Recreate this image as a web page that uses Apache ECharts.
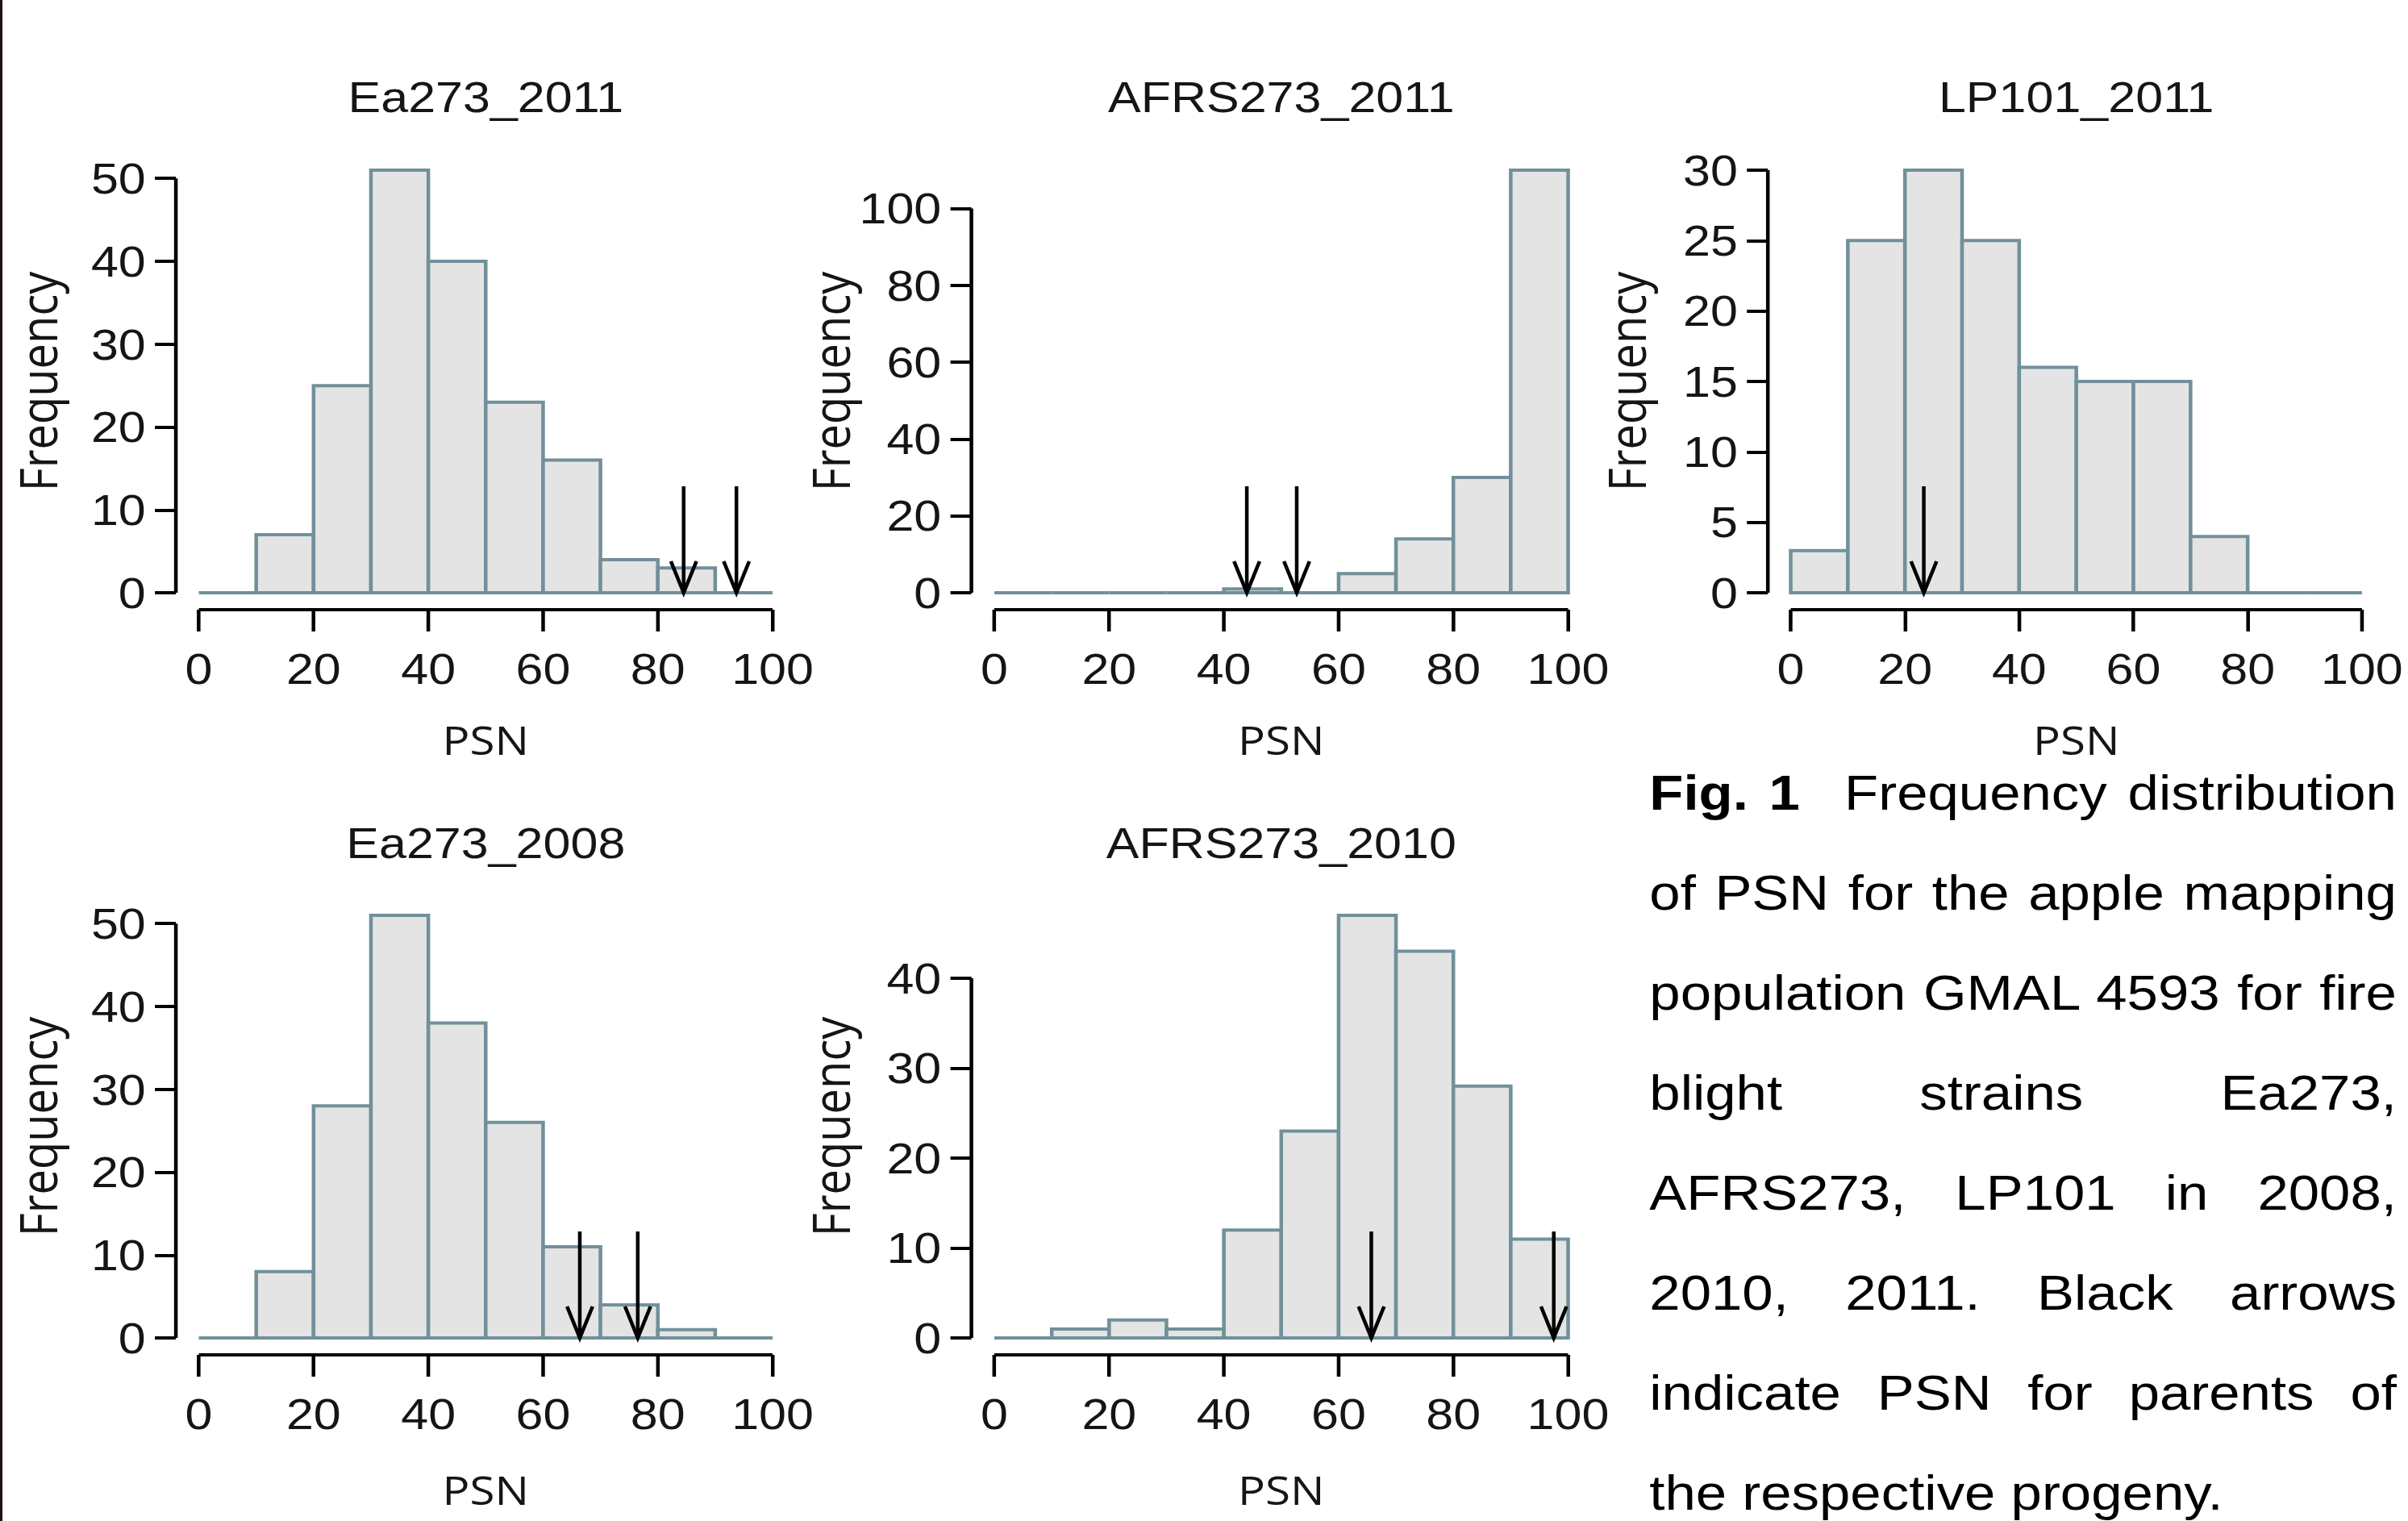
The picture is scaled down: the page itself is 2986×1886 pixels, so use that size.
<!DOCTYPE html>
<html lang="en">
<head>
<meta charset="utf-8">
<title>Fig. 1 Frequency distribution of PSN</title>
<script src="https://cdn.jsdelivr.net/npm/echarts@6/dist/echarts.min.js"></script>
<style>
  html, body { margin: 0; padding: 0; background: #fff; }
  body { width: 2986px; height: 1886px; overflow: hidden; position: relative; }
  /* the source figure is stretched sideways (~1.13x), so lay out narrow and stretch it */
  #stage { position: absolute; left: 0; top: 0; width: 2643px; height: 1886px; transform: scaleX(1.13); transform-origin: 0 0; }
  #chart { position: absolute; left: 0; top: 0; width: 2643px; height: 1886px; }
  #caption { position: absolute; left: 1810px; top: 954px; width: 820px; font-family: 'Liberation Sans', Arial, sans-serif; font-size: 61px; color: #000; }
  #caption div { height: 58px; line-height: 58px; margin-bottom: 66px; text-align: justify; text-align-last: justify; }
  #caption div.last { text-align: left; text-align-last: left; }
  #caption b { margin-right: 26px; }
  #edge { position: absolute; left: 0; top: 0; width: 3px; height: 1886px; background: #1e1212; }
</style>
</head>
<body>
<div id="stage">
  <div id="chart"></div>
  <div id="caption"></div>
</div>
<div id="edge"></div>
<script>
// histogram bins (PSN, %) and tick values
const binEdges = [0, 10, 20, 30, 40, 50, 60, 70, 80, 90, 100];
const xTicks = [0, 20, 40, 60, 80, 100];

// counts per bin
const countsEa2011 = [0, 7, 25, 51, 40, 23, 16, 4, 3, 0];
const countsAfrs2011 = [0, 0, 0, 0, 1, 0, 5, 14, 30, 110];
const countsLp2011 = [3, 25, 30, 25, 16, 15, 15, 4, 0, 0];
const countsEa2008 = [0, 8, 28, 51, 38, 26, 11, 4, 1, 0];
const countsAfrs2010 = [0, 1, 2, 1, 12, 23, 47, 43, 28, 11];

const yTicksEa2011 = [0, 10, 20, 30, 40, 50];
const yTicksAfrs2011 = [0, 20, 40, 60, 80, 100];
const yTicksLp2011 = [0, 5, 10, 15, 20, 25, 30];
const yTicksEa2008 = [0, 10, 20, 30, 40, 50];
const yTicksAfrs2010 = [0, 10, 20, 30, 40];

// PSN of the parents (black arrows)
const arrowsEa2011 = [84.5, 93.7];
const arrowsAfrs2011 = [44.0, 52.7];
const arrowsLp2011 = [23.3];
const arrowsEa2008 = [66.4, 76.5];
const arrowsAfrs2010 = [65.7, 97.5];

const panelTitles = ['Ea273_2011', 'AFRS273_2011', 'LP101_2011', 'Ea273_2008', 'AFRS273_2010'];

const captionLines = [
  '<b>Fig.&nbsp;1</b> Frequency distribution',
  'of PSN for the apple mapping',
  'population GMAL 4593 for fire',
  'blight strains Ea273,',
  'AFRS273, LP101 in 2008,',
  '2010, 2011. Black arrows',
  'indicate PSN for parents of',
  'the respective progeny.'
];

// styles / layout
const BAR_FILL = '#e4e4e4';
const BAR_EDGE = '#71909a';
const INK = '#151515';
const ARROW_LEN = 132;
const HEAD_H = 39;
const HEAD_W = 14;

const gridBoxes = [
  { left: 193, top: 190, width: 680, height: 566 },
  { left: 1066, top: 190, width: 680, height: 566 },
  { left: 1940, top: 190, width: 677, height: 566 },
  { left: 193, top: 1114, width: 680, height: 566 },
  { left: 1066, top: 1114, width: 680, height: 566 }
];

const panels = [
  { counts: countsEa2011, yTicks: yTicksEa2011, arrows: arrowsEa2011 },
  { counts: countsAfrs2011, yTicks: yTicksAfrs2011, arrows: arrowsAfrs2011 },
  { counts: countsLp2011, yTicks: yTicksLp2011, arrows: arrowsLp2011 },
  { counts: countsEa2008, yTicks: yTicksEa2008, arrows: arrowsEa2008 },
  { counts: countsAfrs2010, yTicks: yTicksAfrs2010, arrows: arrowsAfrs2010 }
];

// caption
document.getElementById('caption').innerHTML = captionLines
  .map((t, i) => `<div class="${i === captionLines.length - 1 ? 'last' : ''}">${t}</div>`)
  .join('');

const chart = echarts.init(document.getElementById('chart'), null, { renderer: 'svg' });

const option = { animation: false, title: [], grid: [], xAxis: [], yAxis: [], series: [] };

panels.forEach((p, i) => {
  const box = gridBoxes[i];
  const row2 = i >= 3;
  const leftCol = i === 0 || i === 3;
  // R-style 4% padding around the data range
  const yMax = Math.max(...p.counts);
  const yMin = -0.04 * yMax;
  const yTop = 1.04 * yMax;
  const xMin = -4;
  const xMax = 104;

  option.grid.push(Object.assign({}, box));

  option.title.push({
    text: panelTitles[i],
    left: box.left + box.width / 2,
    top: row2 ? 1018 : 93,
    textAlign: 'center',
    padding: 0,
    textStyle: { fontFamily: 'Liberation Sans', fontSize: 54, fontWeight: 'normal', color: INK }
  });

  option.xAxis.push({
    type: 'value',
    gridIndex: i,
    min: xMin,
    max: xMax,
    axisLine: { show: false, onZero: false },
    splitLine: { show: false },
    axisTick: { customValues: xTicks, length: 27, lineStyle: { color: '#000', width: 4 } },
    axisLabel: { customValues: xTicks, margin: 46, fontFamily: 'Liberation Sans', fontSize: 54, color: INK },
    name: 'PSN',
    nameLocation: 'middle',
    nameGap: row2 ? 142 : 136,
    nameTextStyle: { fontFamily: 'Open Sans', fontSize: 50, lineHeight: 50, color: INK }
  });

  option.yAxis.push({
    type: 'value',
    gridIndex: i,
    min: yMin,
    max: yTop,
    axisLine: { show: false, onZero: false },
    splitLine: { show: false },
    axisTick: { customValues: p.yTicks, length: 23, lineStyle: { color: '#000', width: 4 } },
    axisLabel: { customValues: p.yTicks, margin: 33, fontFamily: 'Liberation Sans', fontSize: 54, color: INK },
    name: 'Frequency',
    nameLocation: 'middle',
    nameRotate: 90,
    nameGap: leftCol ? 124 : 127,
    nameTextStyle: { fontFamily: 'Open Sans', fontSize: 56, lineHeight: 56, color: INK }
  });

  // histogram bars
  option.series.push({
    type: 'custom',
    name: panelTitles[i],
    xAxisIndex: i,
    yAxisIndex: i,
    clip: false,
    silent: true,
    z: 2,
    data: p.counts.map((c, k) => [binEdges[k], binEdges[k + 1], c]),
    encode: { x: [0, 1], y: 2 },
    renderItem: (params, api) => {
      const a = api.coord([api.value(0), 0]);
      const b = api.coord([api.value(1), api.value(2)]);
      return {
        type: 'rect',
        shape: { x: a[0], y: b[1], width: b[0] - a[0], height: a[1] - b[1] },
        style: { fill: BAR_FILL, stroke: BAR_EDGE, lineWidth: 4 }
      };
    }
  });

  // axis lines only over the tick range, like base R
  option.series.push({
    type: 'custom',
    xAxisIndex: i,
    yAxisIndex: i,
    clip: false,
    silent: true,
    z: 3,
    data: [[0, 0]],
    renderItem: (params, api) => {
      const xa = api.coord([xTicks[0], yMin]);
      const xb = api.coord([xTicks[xTicks.length - 1], yMin]);
      const ya = api.coord([xMin, p.yTicks[0]]);
      const yb = api.coord([xMin, p.yTicks[p.yTicks.length - 1]]);
      const st = { stroke: '#000', lineWidth: 4 };
      return {
        type: 'group',
        children: [
          { type: 'line', shape: { x1: xa[0], y1: xa[1], x2: xb[0], y2: xb[1] }, style: st },
          { type: 'line', shape: { x1: ya[0], y1: ya[1], x2: yb[0], y2: yb[1] }, style: st }
        ]
      };
    }
  });

  // parent arrows
  option.series.push({
    type: 'custom',
    xAxisIndex: i,
    yAxisIndex: i,
    clip: false,
    silent: true,
    z: 4,
    data: p.arrows.map(x => [x, 0]),
    renderItem: (params, api) => {
      const tip = api.coord([api.value(0), 0]);
      const st = { stroke: '#000', fill: null, lineWidth: 4 };
      return {
        type: 'group',
        children: [
          { type: 'line', shape: { x1: tip[0], y1: tip[1] - ARROW_LEN, x2: tip[0], y2: tip[1] }, style: st },
          {
            type: 'polyline',
            shape: { points: [[tip[0] - HEAD_W, tip[1] - HEAD_H], [tip[0], tip[1]], [tip[0] + HEAD_W, tip[1] - HEAD_H]] },
            style: st
          }
        ]
      };
    }
  });
});

chart.setOption(option);
</script>
</body>
</html>
